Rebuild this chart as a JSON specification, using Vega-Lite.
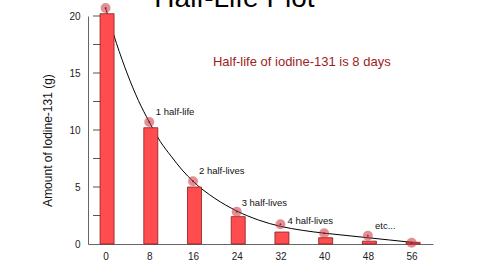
{
  "$schema": "https://vega.github.io/schema/vega-lite/v6.json",
  "width": 345,
  "height": 228,
  "autosize": {"type": "none"},
  "padding": {"left": 88, "top": 16, "right": 47, "bottom": 26},
  "background": "white",
  "config": {"view": {"stroke": null}, "font": "Liberation Sans"},
  "title": {"text": "Half-Life Plot", "fontSize": 28, "fontWeight": "normal", "color": "#000", "anchor": "middle", "baseline": "alphabetic", "dx": -26, "dy": 32, "offset": 0},
  "datasets": {
    "bars": [
      {"day": 0, "amount": 20.2}, {"day": 8, "amount": 10.2}, {"day": 16, "amount": 5.0}, {"day": 24, "amount": 2.4},
      {"day": 32, "amount": 1.05}, {"day": 40, "amount": 0.55}, {"day": 48, "amount": 0.25}, {"day": 56, "amount": 0.15}
    ],
    "points": [
      {"day": 0, "amount": 20.7}, {"day": 8, "amount": 10.7}, {"day": 16, "amount": 5.5}, {"day": 24, "amount": 2.83},
      {"day": 32, "amount": 1.73}, {"day": 40, "amount": 0.94}, {"day": 48, "amount": 0.73}, {"day": 56, "amount": 0.11}
    ],
    "curve": [
      {"day": 0, "amount": 20.7}, {"day": 2, "amount": 17.6}, {"day": 4, "amount": 14.9}, {"day": 6, "amount": 12.6},
      {"day": 8, "amount": 10.7}, {"day": 10, "amount": 9.0}, {"day": 12, "amount": 7.7}, {"day": 14, "amount": 6.5},
      {"day": 16, "amount": 5.5}, {"day": 20, "amount": 4.0}, {"day": 24, "amount": 2.9}, {"day": 28, "amount": 2.1},
      {"day": 32, "amount": 1.55}, {"day": 36, "amount": 1.2}, {"day": 40, "amount": 0.95}, {"day": 44, "amount": 0.75},
      {"day": 48, "amount": 0.55}, {"day": 52, "amount": 0.35}, {"day": 56, "amount": 0.15}, {"day": 57.2, "amount": 0.08}
    ],
    "yticks": [
      {"amount": 2.5}, {"amount": 5}, {"amount": 7.5}, {"amount": 10}, {"amount": 12.5}, {"amount": 15}, {"amount": 17.5}, {"amount": 20}
    ],
    "labels": [
      {"day": 9.2, "amount": 11.6, "text": "1 half-life"},
      {"day": 17.1, "amount": 6.43, "text": "2 half-lives"},
      {"day": 24.9, "amount": 3.62, "text": "3 half-lives"},
      {"day": 33.3, "amount": 2.04, "text": "4 half-lives"},
      {"day": 49.3, "amount": 1.6, "text": "etc..."}
    ],
    "note": [
      {"day": 35.9, "amount": 16.0, "text": "Half-life of iodine-131 is 8 days"}
    ]
  },
  "layer": [
    {
      "data": {"name": "curve"},
      "mark": {"type": "line", "interpolate": "monotone", "color": "#000", "strokeWidth": 1},
      "encoding": {
        "x": {"field": "day", "type": "quantitative", "scale": {"domain": [-2.3, 59], "nice": false, "zero": false},
          "axis": {"values": [0, 8, 16, 24, 32, 40, 48, 56], "ticks": false, "grid": false, "title": null, "domainColor": "#666", "labelFontSize": 10, "labelColor": "#222", "labelPadding": 7}},
        "y": {"field": "amount", "type": "quantitative", "scale": {"domain": [0, 20], "nice": false},
          "axis": {"values": [0, 5, 10, 15, 20], "ticks": false, "domainColor": "#666", "labelPadding": 8, "labelFontSize": 10, "labelColor": "#222", "grid": false,
            "title": "Amount of Iodine-131 (g)", "titleFontSize": 12, "titleFontWeight": "normal", "titleColor": "#111", "titlePadding": 14, "titleY": 124}}
      }
    },
    {
      "data": {"name": "yticks"},
      "mark": {"type": "rule", "color": "#555", "strokeWidth": 1},
      "encoding": {
        "x": {"datum": -2.3, "type": "quantitative"},
        "x2": {"datum": -0.7},
        "y": {"field": "amount", "type": "quantitative"}
      }
    },
    {
      "data": {"name": "bars"},
      "mark": {"type": "bar", "size": 14, "xOffset": 1.5, "color": "#ff4d4f", "stroke": "#8b1a1a", "strokeWidth": 0.8},
      "encoding": {
        "x": {"field": "day", "type": "quantitative"},
        "y": {"field": "amount", "type": "quantitative"}
      }
    },
    {
      "data": {"name": "points"},
      "mark": {"type": "point", "filled": true, "size": 100, "color": "#c8343e", "opacity": 0.55},
      "encoding": {
        "x": {"field": "day", "type": "quantitative"},
        "y": {"field": "amount", "type": "quantitative"}
      }
    },
    {
      "data": {"name": "points"},
      "mark": {"type": "point", "filled": true, "size": 4, "color": "#7a1a20", "opacity": 0.8},
      "encoding": {
        "x": {"field": "day", "type": "quantitative"},
        "y": {"field": "amount", "type": "quantitative"}
      }
    },
    {
      "data": {"name": "labels"},
      "mark": {"type": "text", "align": "left", "baseline": "middle", "fontSize": 9.5, "color": "#111"},
      "encoding": {
        "x": {"field": "day", "type": "quantitative"},
        "y": {"field": "amount", "type": "quantitative"},
        "text": {"field": "text"}
      }
    },
    {
      "data": {"name": "note"},
      "mark": {"type": "text", "align": "center", "baseline": "middle", "fontSize": 13, "color": "#a01c1c"},
      "encoding": {
        "x": {"field": "day", "type": "quantitative"},
        "y": {"field": "amount", "type": "quantitative"},
        "text": {"field": "text"}
      }
    }
  ]
}
